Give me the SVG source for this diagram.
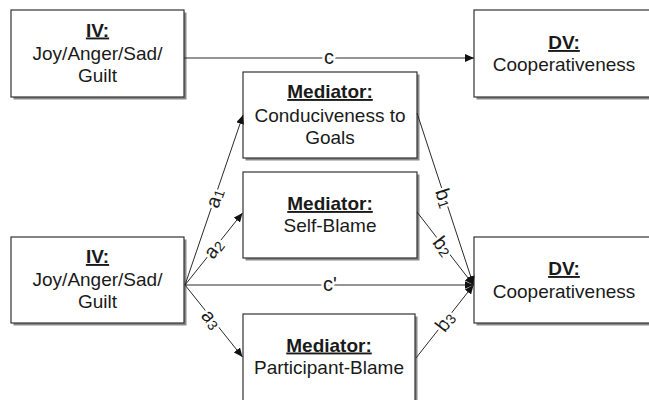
<svg xmlns="http://www.w3.org/2000/svg" width="649" height="400" viewBox="0 0 649 400">
<defs>
<style>
.shadow{fill:#8a8a8a;}
.box{fill:#fff;stroke:#333;stroke-width:1.2;}
.t{font-family:"Liberation Sans",Arial,sans-serif;font-size:19px;fill:#1a1a1a;text-anchor:middle;}
.h{font-weight:bold;text-decoration:underline;}
.conn{stroke:#2a2a2a;stroke-width:1;fill:none;}
.lab{font-family:"Liberation Sans",Arial,sans-serif;font-size:20px;fill:#1a1a1a;text-anchor:middle;dominant-baseline:central;stroke:#fff;stroke-width:5;paint-order:stroke;stroke-linejoin:round;}
.sub{font-size:14px;}
</style>
<marker id="arr" markerUnits="userSpaceOnUse" markerWidth="10" markerHeight="8" refX="9" refY="4" orient="auto">
<path d="M0,0 L9,4 L0,8 Z" fill="#111"/>
</marker>
</defs>
<rect width="649" height="400" fill="#fff"/>

<g id="iv-top">
<rect class="shadow" x="13.5" y="12.5" width="173" height="87"/>
<rect class="box" x="11" y="10" width="173" height="87"/>
<text class="t h" x="97.5" y="36.5">IV:</text>
<text class="t" x="97.5" y="59.5">Joy/Anger/Sad/</text>
<text class="t" x="97.5" y="81.5">Guilt</text>
</g>

<g id="dv-top">
<rect class="shadow" x="476.5" y="12.5" width="181" height="87"/>
<rect class="box" x="474" y="10" width="181" height="87"/>
<text class="t h" x="564" y="49">DV:</text>
<text class="t" x="564" y="71">Cooperativeness</text>
</g>

<g id="med-goals">
<rect class="shadow" x="245.5" y="74.5" width="174" height="86"/>
<rect class="box" x="243" y="72" width="174" height="86"/>
<text class="t h" x="330" y="98">Mediator:</text>
<text class="t" x="330" y="121.5">Conduciveness to</text>
<text class="t" x="330" y="143.5">Goals</text>
</g>

<g id="med-self">
<rect class="shadow" x="245.5" y="174.5" width="174" height="86"/>
<rect class="box" x="243" y="172" width="174" height="86"/>
<text class="t h" x="330" y="210">Mediator:</text>
<text class="t" x="330" y="232">Self-Blame</text>
</g>

<g id="iv-bottom">
<rect class="shadow" x="13.5" y="239.5" width="173" height="86"/>
<rect class="box" x="11" y="237" width="173" height="86"/>
<text class="t h" x="97.5" y="263">IV:</text>
<text class="t" x="97.5" y="285.5">Joy/Anger/Sad/</text>
<text class="t" x="97.5" y="308">Guilt</text>
</g>

<g id="dv-bottom">
<rect class="shadow" x="476.5" y="239.5" width="181" height="86"/>
<rect class="box" x="474" y="237" width="181" height="86"/>
<text class="t h" x="564" y="275">DV:</text>
<text class="t" x="564" y="297.5">Cooperativeness</text>
</g>

<g id="med-participant">
<rect class="shadow" x="245.5" y="316.5" width="172" height="100"/>
<rect class="box" x="243" y="314" width="172" height="100"/>
<text class="t h" x="329" y="351.5">Mediator:</text>
<text class="t" x="329" y="373.5">Participant-Blame</text>
</g>

<g id="connectors">
<line class="conn" x1="184" y1="58" x2="474" y2="58" marker-end="url(#arr)"/>
<line class="conn" x1="185" y1="285" x2="243" y2="115" marker-end="url(#arr)"/>
<line class="conn" x1="185" y1="285" x2="242.5" y2="213" marker-end="url(#arr)"/>
<line class="conn" x1="185" y1="285" x2="473.5" y2="285" marker-end="url(#arr)"/>
<line class="conn" x1="185" y1="285" x2="242.5" y2="357" marker-end="url(#arr)"/>
<line class="conn" x1="417" y1="113" x2="473.5" y2="285" marker-end="url(#arr)"/>
<line class="conn" x1="417" y1="212" x2="473.5" y2="285" marker-end="url(#arr)"/>
<line class="conn" x1="416" y1="358" x2="473.5" y2="285" marker-end="url(#arr)"/>

<text class="lab" x="329" y="57">c</text>
<text class="lab" x="330" y="284">c'</text>
<text class="lab" transform="translate(214.5,198) rotate(-71.2)">a<tspan class="sub" dy="3">1</tspan></text>
<text class="lab" transform="translate(213.5,248.5) rotate(-51.6)">a<tspan class="sub" dy="3">2</tspan></text>
<text class="lab" transform="translate(211.5,319) rotate(51.6)">a<tspan class="sub" dy="3">3</tspan></text>
<text class="lab" transform="translate(444.5,198) rotate(72)">b<tspan class="sub" dy="3">1</tspan></text>
<text class="lab" transform="translate(443,246) rotate(52.5)">b<tspan class="sub" dy="3">2</tspan></text>
<text class="lab" transform="translate(445,321.5) rotate(-52.5)">b<tspan class="sub" dy="3">3</tspan></text>
</g>
</svg>
